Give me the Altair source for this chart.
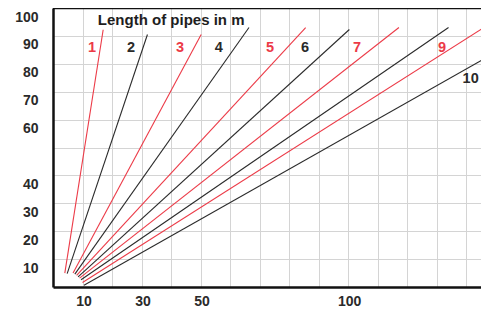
import altair as alt
import pandas as pd

# Pipe length lines: start and end points (x, y in chart units)
line_ids = [1, 2, 3, 4, 5, 6, 7, 8, 9, 10]
line_colors = ["red", "black", "red", "black", "red", "black", "red", "black", "red", "black"]
x_start = [4.0, 4.8, 6.8, 7.4, 8.0, 8.5, 9.0, 9.5, 10.0, 10.5]
y_start = [5.0, 4.8, 5.0, 4.6, 4.2, 3.6, 3.2, 2.6, 1.6, 0.6]
x_end = [17.0, 32.0, 50.2, 66.4, 85.6, 100.4, 117.2, 134.0, 149.0, 149.0]
y_end = [92.2, 90.5, 90.5, 93.0, 93.0, 92.3, 93.0, 93.0, 95.0, 83.5]

# Line labels (label 8 is not shown in the original)
label_text = ["1", "2", "3", "4", "5", "6", "7", "9", "10"]
label_color = ["red", "black", "red", "black", "red", "black", "red", "red", "black"]
label_x = [13.2, 26.4, 43.0, 56.2, 73.5, 85.4, 103.0, 131.8, 141.5]
label_y = [85.7, 85.7, 85.7, 85.7, 85.7, 85.7, 85.7, 85.7, 74.5]

title_text = ["Length of pipes in m"]
title_x = [15.2]
title_y = [95.8]

x_grid_values = list(range(0, 150, 10))
x_label_values = [10, 30, 50, 100]
y_grid_values = list(range(0, 110, 10))
y_label_values = [10, 20, 30, 40, 60, 70, 80, 90, 100]

rows = []
for i, c, xs, ys, xe, ye in zip(line_ids, line_colors, x_start, y_start, x_end, y_end):
    rows.append({"id": i, "grp": c, "x": xs, "y": ys, "o": 0})
    rows.append({"id": i, "grp": c, "x": xe, "y": ye, "o": 1})
lines_df = pd.DataFrame(rows)
labels_df = pd.DataFrame({"t": label_text, "grp": label_color, "x": label_x, "y": label_y})
title_df = pd.DataFrame({"t": title_text, "x": title_x, "y": title_y})

RED = "#ec3a47"
DARK = "#2a2a2a"
FONT = "Liberation Sans"

xscale = alt.Scale(domain=[0, 145], nice=False, zero=False)
yscale = alt.Scale(domain=[0, 100], nice=False, zero=False)
cscale = alt.Scale(domain=["red", "black"], range=[RED, DARK])
tscale = alt.Scale(domain=["red", "black"], range=["#e63843", "#1a1a1a"])

xlabel_expr = "indexof(" + str(x_label_values) + ", datum.value) >= 0 ? datum.label : ''"
ylabel_expr = "indexof(" + str(y_label_values) + ", datum.value) >= 0 ? datum.label : ''"

x_axis = alt.Axis(values=x_grid_values, labelExpr=xlabel_expr, title=None, grid=True,
                  gridColor="#d4d4d4", gridWidth=1, ticks=False, domainColor="#111",
                  domainWidth=2.5, labelFont=FONT, labelFontSize=14, labelFontWeight="bold",
                  labelColor="#2a2a2a", labelPadding=7, labelOffset=1, labelFlush=False)
y_axis = alt.Axis(values=y_grid_values, labelExpr=ylabel_expr, title=None, grid=True,
                  gridColor="#d4d4d4", gridWidth=1, ticks=False, domainColor="#111",
                  domainWidth=2.5, labelFont=FONT, labelFontSize=14, labelFontWeight="bold",
                  labelColor="#2a2a2a", labelPadding=15, labelOffset=9, labelFlush=False)

X = lambda f: alt.X(f, scale=xscale, axis=x_axis)
Y = lambda f: alt.Y(f, scale=yscale, axis=y_axis)

lines = alt.Chart(lines_df).mark_line(strokeWidth=1.1, clip=True).encode(
    x=X("x:Q"),
    y=Y("y:Q"),
    color=alt.Color("grp:N", scale=cscale, legend=None),
    detail="id:N",
    order="o:Q",
)

top_border = alt.Chart(title_df).mark_rule(color="#111", strokeWidth=2.5).encode(
    y=alt.datum(100, scale=yscale, axis=y_axis)
)

labels = alt.Chart(labels_df).mark_text(font=FONT, fontSize=14.5, fontWeight="bold",
                                        align="center", baseline="middle").encode(
    x=X("x:Q"),
    y=Y("y:Q"),
    text="t:N",
    color=alt.Color("grp:N", scale=tscale, legend=None),
)

title = alt.Chart(title_df).mark_text(font=FONT, fontSize=15, fontWeight="bold",
                                      align="left", baseline="middle",
                                      color="#1e1e1e").encode(
    x=X("x:Q"),
    y=Y("y:Q"),
    text="t:N",
)

chart = alt.layer(lines, top_border, labels, title).properties(
    width=428, height=279,
    padding={"left": 45, "top": 0, "right": 0, "bottom": 21},
    autosize=alt.AutoSizeParams(type="none"),
).configure_view(stroke=None).configure(background="white")

chart.save("out.html", embed_options={"renderer": "svg", "actions": False})
